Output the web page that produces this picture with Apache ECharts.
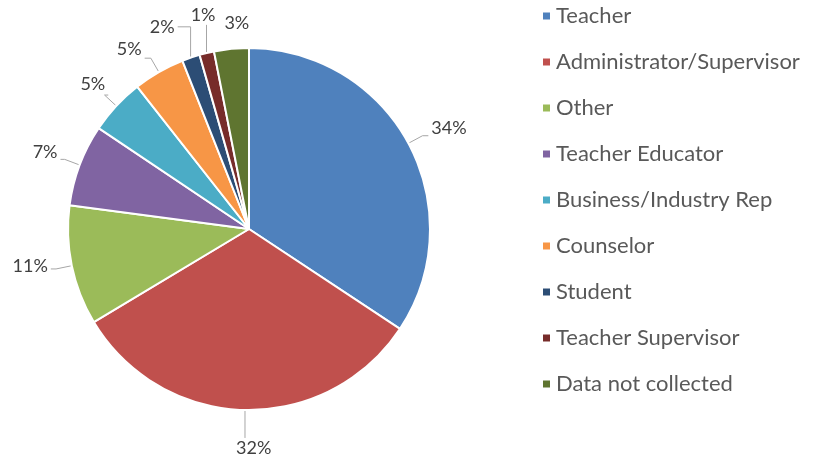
<!DOCTYPE html>
<html lang="en" style="height: 100%">
<head>
  <meta charset="utf-8">
</head>
<body style="height: 100%; margin: 0; background: #fff">
  <div id="container" style="width: 828px; height: 459px"></div>
  <script type="text/javascript" src="https://fastly.jsdelivr.net/npm/echarts@6/dist/echarts.min.js"></script>
  <script type="text/javascript">
    // categories, clockwise from 12 o'clock
    var categories = ['Teacher', 'Administrator/Supervisor', 'Other', 'Teacher Educator',
      'Business/Industry Rep', 'Counselor', 'Student', 'Teacher Supervisor', 'Data not collected'];
    // share in percent
    var shares = [34.3, 32.1, 10.7, 7.3, 5.0, 4.6, 1.6, 1.3, 3.1];
    var colors = ['#4F81BD', '#C0504D', '#9BBB59', '#8064A2', '#4BACC6',
      '#F79646', '#2C4D75', '#772C2A', '#5F7530'];

    // label placement tweaks (degrees shift, distance beyond rim) to spread the crowded top labels
    var labelShift = [1.5, -2.5, 2, 0, 0, -3.8, -4.5, 1.4, 2.2];
    var labelGap = [43, 38, 41, 37, 32, 35, 39, 38, 25];

    var CX = 249, CY = 229, R = 181;

    var dom = document.getElementById('container');
    var myChart = echarts.init(dom, null, { renderer: 'canvas' });

    var pieData = categories.map(function (name, i) {
      return { name: name, value: shares[i], itemStyle: { color: colors[i] } };
    });

    // mid angle of each slice (radians, clockwise from top)
    var total = shares.reduce(function (a, b) { return a + b; }, 0);
    var midAngles = [];
    var acc = 0;
    shares.forEach(function (v) {
      midAngles.push((acc + v / 2) / total * Math.PI * 2);
      acc += v;
    });

    function polar(r, a) {
      return [CX + r * Math.sin(a), CY - r * Math.cos(a)];
    }

    var option = {
      animation: false,
      textStyle: { fontFamily: 'Lato' },
      legend: {
        orient: 'vertical',
        left: 536,
        top: 0,
        itemWidth: 9,
        itemHeight: 9,
        itemGap: 24,
        icon: 'rect',
        data: categories,
        textStyle: { fontSize: 22, color: '#595959', fontFamily: 'Lato' }
      },
      series: [
        {
          type: 'pie',
          center: [CX, CY],
          radius: R,
          startAngle: 90,
          clockwise: true,
          data: pieData,
          itemStyle: { borderColor: '#fff', borderWidth: 2 },
          label: {
            show: true,
            position: 'outside',
            overflow: 'none',
            formatter: function (p) { return Math.round(p.value) + '%'; },
            fontSize: 18,
            color: '#404040',
            fontFamily: 'Lato'
          },
          labelLine: {
            show: true,
            lineStyle: { color: '#A6A6A6', width: 1 }
          },
          labelLayout: function (params) {
            var i = params.dataIndex;
            var a = midAngles[i];
            var la = a + labelShift[i] * Math.PI / 180;
            var c = polar(R + labelGap[i], la);
            var p0 = polar(R + 1, a);
            var p1 = polar(R + 16, a);
            var hw = params.labelRect.width / 2;
            var p2 = p1;
            var s = Math.sin(a);
            if (Math.abs(s) > 0.35) {
              p2 = [s > 0 ? c[0] - hw - 3 : c[0] + hw + 3, p1[1]];
            } else if (labelGap[i] > 30) {
              // near-vertical: run up/down to the text, then across to it
              p1 = polar(R + 3, a);
              p1 = [p0[0], c[1] + (Math.cos(a) > 0 ? 10 : -10)];
              p2 = Math.abs(c[0] - p0[0]) > hw ? [c[0] + (c[0] < p0[0] ? hw + 3 : -hw - 3), c[1]] : p1;
              if (p2 !== p1) p1 = [p0[0], c[1]];
            } else {
              p1 = p0;
              p2 = p0;
            }
            return {
              x: c[0],
              y: c[1],
              align: 'center',
              verticalAlign: 'middle',
              labelLinePoints: [p0, p1, p2]
            };
          }
        }
      ]
    };

    myChart.setOption(option);
    window.addEventListener('resize', myChart.resize);
  </script>
</body>
</html>
